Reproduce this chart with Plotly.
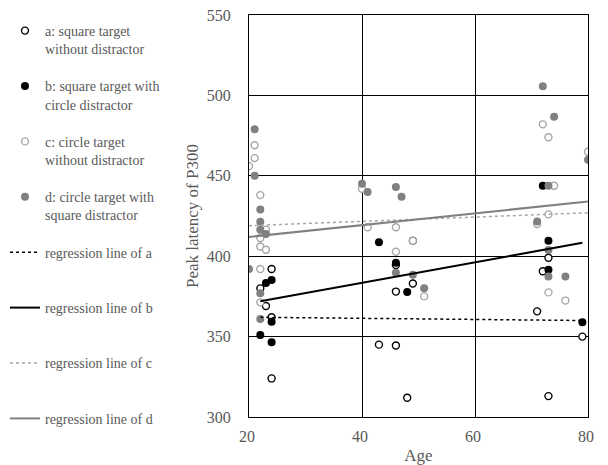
import plotly.graph_objects as go

# ---- data ----
a_age = [22, 23, 24, 24, 24, 43, 46, 46, 49, 46, 48, 72, 73, 71, 79, 73]
a_lat = [380, 369, 392, 362, 324, 345, 344.5, 394.5, 383, 378, 312, 390.6, 399, 365.7, 350, 313]

b_age = [23, 24, 24, 22, 24, 43, 49, 46, 48, 72, 73, 73, 79]
b_lat = [383.4, 385.2, 359.3, 351, 346.5, 408.6, 409.6, 396, 377.7, 443.8, 409.6, 391.6, 359]

c_age = [20, 21, 21, 22, 23, 22, 22, 23, 22, 22, 40, 41, 46, 46, 51, 49, 72, 73, 80, 74, 73, 71, 73, 76]
c_lat = [456, 469, 461, 438, 416.5, 411.3, 406, 404, 392, 371.3, 442, 418, 418, 402.8, 375, 409.6,
         482, 474, 465, 443.8, 426, 420, 377.5, 372.4]

d_age = [20, 21, 21, 22, 22, 22, 23, 22, 22, 40, 41, 46, 47, 46, 49, 51, 72, 74, 80, 73, 71, 73, 73, 76]
d_lat = [392, 479, 450, 429, 421.4, 416.5, 413.8, 377, 361, 445, 440, 443, 437, 389.7, 388.5, 380,
         505.7, 486.8, 460, 443.8, 421.6, 403.8, 387.3, 387.3]

# regression line end points
reg_a_age = [22, 79]
reg_a_lat = [362, 360]
reg_b_age = [22, 79]
reg_b_lat = [372, 408.3]
reg_c_age = [20, 80]
reg_c_lat = [419, 427]
reg_d_age = [20, 80]
reg_d_lat = [412, 434]

names = [
    "a: square target<br>without distractor",
    "b: square target with<br>circle distractor",
    "c: circle target<br>without distractor",
    "d: circle target with<br>square distractor",
    "regression line of a<br> ",
    "regression line of b<br> ",
    "regression line of c<br> ",
    "regression line of d<br> ",
]

x_ticks = [20, 40, 60, 80]
y_ticks = [300, 350, 400, 450, 500, 550]

FONT = "Liberation Serif"
TXT = "#595959"
GRAY = "#808080"
LGRAY = "#a6a6a6"

fig = go.Figure()

fig.add_trace(go.Scatter(x=a_age, y=a_lat, mode="markers", name=names[0], legendgroup="1",
                         marker=dict(size=7, color="white", line=dict(color="black", width=1.4))))
fig.add_trace(go.Scatter(x=b_age, y=b_lat, mode="markers", name=names[1], legendgroup="2",
                         marker=dict(size=8, color="black", line=dict(width=0))))
fig.add_trace(go.Scatter(x=c_age, y=c_lat, mode="markers", name=names[2], legendgroup="3",
                         marker=dict(size=7, color="white", line=dict(color=LGRAY, width=1.4))))
fig.add_trace(go.Scatter(x=d_age, y=d_lat, mode="markers", name=names[3], legendgroup="4",
                         marker=dict(size=8, color=GRAY, line=dict(width=0))))

fig.add_trace(go.Scatter(x=reg_a_age, y=reg_a_lat, mode="lines", name=names[4], legendgroup="5",
                         line=dict(color="black", width=1.5, dash="dot")))
fig.add_trace(go.Scatter(x=reg_b_age, y=reg_b_lat, mode="lines", name=names[5], legendgroup="6",
                         line=dict(color="black", width=2)))
fig.add_trace(go.Scatter(x=reg_c_age, y=reg_c_lat, mode="lines", name=names[6], legendgroup="7",
                         line=dict(color=LGRAY, width=1.5, dash="dot")))
fig.add_trace(go.Scatter(x=reg_d_age, y=reg_d_lat, mode="lines", name=names[7], legendgroup="8",
                         line=dict(color=GRAY, width=2)))

fig.update_layout(
    width=600, height=457,
    margin=dict(l=241, r=20, t=7, b=48, autoexpand=False),
    paper_bgcolor="white", plot_bgcolor="white",
    font=dict(family=FONT, color=TXT, size=15),
    showlegend=True,
    legend=dict(x=-0.7198, xanchor="left", y=1.0, yanchor="top",
                traceorder="grouped", tracegroupgap=16, valign="top", maxheight=457,
                font=dict(family=FONT, size=14, color=TXT),
                bgcolor="rgba(0,0,0,0)", borderwidth=0),
)

fig.update_xaxes(range=[20, 80], tickvals=x_ticks, ticktext=[str(v) for v in x_ticks],
                 automargin=False, ticklabeloverflow="allow",
                 showgrid=True, gridcolor="black", gridwidth=1,
                 showline=True, linecolor="black", linewidth=1, mirror=True,
                 zeroline=False, ticks="", ticklabelstandoff=5, ticklabelshift=-2,
                 tickfont=dict(family=FONT, size=16, color=TXT),
                 title=dict(text="Age", font=dict(family=FONT, size=17, color=TXT), standoff=5))
fig.update_yaxes(range=[300, 550], tickvals=y_ticks, ticktext=[str(v) for v in y_ticks],
                 automargin=False, ticklabeloverflow="allow",
                 showgrid=True, gridcolor="black", gridwidth=1,
                 showline=True, linecolor="black", linewidth=1, mirror=True,
                 zeroline=False, ticks="", ticklabelstandoff=14,
                 tickfont=dict(family=FONT, size=16, color=TXT),
                 title=dict(text="Peak latency of P300", font=dict(family=FONT, size=17, color=TXT),
                            standoff=3))

fig.write_html("out.html")
